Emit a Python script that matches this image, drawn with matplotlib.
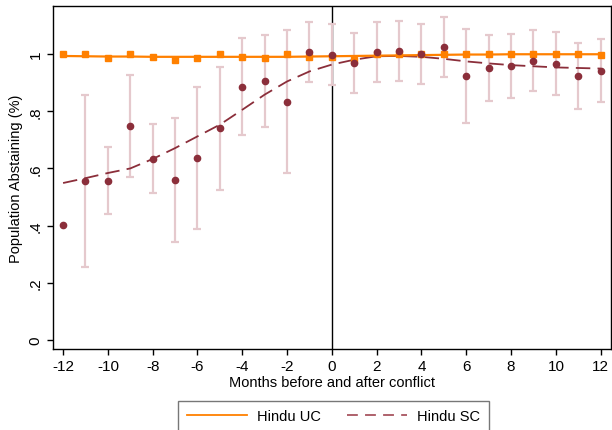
import numpy as np
import matplotlib
matplotlib.use("Agg")
import matplotlib.pyplot as plt
from matplotlib.lines import Line2D

plt.rcParams["font.family"] = ["Liberation Sans", "DejaVu Sans"]
plt.rcParams["font.size"] = 10.5
plt.rcParams["axes.unicode_minus"] = False

months = list(range(-12, 13))

# Hindu SC: monthly means and 95% CI
sc_mean = [0.403, 0.557, 0.557, 0.747, 0.634, 0.559, 0.636, 0.740, 0.886, 0.906,
           0.832, 1.007, 0.998, 0.968, 1.006, 1.010, 1.000, 1.024, 0.923, 0.951,
           0.957, 0.977, 0.966, 0.924, 0.942]
sc_lo = [None, 0.257, 0.440, 0.569, 0.513, 0.344, 0.387, 0.525, 0.718, 0.746,
         0.583, 0.903, 0.893, 0.862, 0.902, 0.906, 0.895, 0.920, 0.757, 0.837,
         0.846, 0.869, 0.855, 0.809, 0.832]
sc_hi = [None, 0.855, 0.676, 0.927, 0.756, 0.777, 0.886, 0.956, 1.057, 1.065,
         1.083, 1.112, 1.103, 1.072, 1.110, 1.115, 1.105, 1.129, 1.088, 1.067,
         1.070, 1.085, 1.078, 1.040, 1.054]
sc_fit = [0.549, 0.566, 0.584, 0.600, 0.633, 0.671, 0.712, 0.753, 0.805, 0.858,
          0.904, 0.939, 0.963, 0.980, 0.992, 0.993, 0.990, 0.983, 0.974, 0.967,
          0.961, 0.957, 0.953, 0.951, 0.949]

# Hindu UC: monthly means and fitted line
uc_mean = [1.000, 1.000, 0.986, 1.000, 0.988, 0.979, 0.986, 1.000, 0.990, 0.987,
           1.000, 0.990, 0.990, 0.980, 1.000, 1.000, 1.000, 1.000, 1.000, 1.000,
           1.000, 1.000, 1.000, 1.000, 0.997]
uc_fit = [0.993, 0.992, 0.991, 0.991, 0.990, 0.990, 0.990, 0.990, 0.990, 0.990,
          0.990, 0.991, 0.992, 0.993, 0.994, 0.995, 0.996, 0.997, 0.998, 0.998,
          0.999, 0.999, 0.999, 0.999, 0.999]

x_ticks = list(range(-12, 13, 2))
y_ticks = [0, 0.2, 0.4, 0.6, 0.8, 1.0]
y_labels = ["0", ".2", ".4", ".6", ".8", "1"]

uc_color = "#FF8000"
sc_color = "#8B2E3A"
ci_color = "#E5C9CD"

fig = plt.figure(figsize=(6.12, 4.31), dpi=100)
ax = fig.add_axes([0.0866, 0.188, 0.9114, 0.796])

# confidence intervals
ci_x = [m for m, lo in zip(months, sc_lo) if lo is not None]
ci_mid = [(lo + hi) / 2 for lo, hi in zip(sc_lo, sc_hi) if lo is not None]
ci_err = [(hi - lo) / 2 for lo, hi in zip(sc_lo, sc_hi) if lo is not None]
ax.errorbar(ci_x, ci_mid, yerr=ci_err, fmt="none", ecolor=ci_color,
            elinewidth=1.6, capsize=3, capthick=1.6, zorder=1)

ax.plot(months, sc_fit, color=sc_color, lw=1.3, dashes=(8, 4), zorder=2)
ax.plot(months, uc_fit, color=uc_color, lw=1.6, zorder=3)
ax.plot(months, uc_mean, "s", color=uc_color, ms=4.2, zorder=4)
ax.plot(months, sc_mean, "o", color=sc_color, ms=4.5, zorder=5)

ax.axvline(0, color="black", lw=1, zorder=0)

ax.set_xlim(-12.45, 12.45)
ax.set_ylim(-0.031, 1.168)
ax.set_xticks(x_ticks)
ax.set_yticks(y_ticks)
ax.set_yticklabels(y_labels, rotation=90, va="center")
ax.tick_params(direction="out", length=4, width=1, labelsize=11)
ax.set_xlabel("Months before and after conflict", labelpad=1)
ax.set_ylabel("Population Abstaining (%)", labelpad=4)
for sp in ax.spines.values():
    sp.set_linewidth(1)

handles = [Line2D([], [], color=uc_color, lw=1.3),
           Line2D([], [], color="#A85560", lw=1.3, dashes=(6, 4))]
fig.legend(handles, ["Hindu UC", "Hindu SC"], loc="upper center",
           bbox_to_anchor=(0.545, 0.068), ncol=2, frameon=True, fancybox=False,
           edgecolor="#555555", handlelength=4.1, handletextpad=0.7,
           columnspacing=1.8, borderpad=0.6, borderaxespad=0,
           prop={"size": 10.5})

fig.savefig("out.png", dpi=100)
